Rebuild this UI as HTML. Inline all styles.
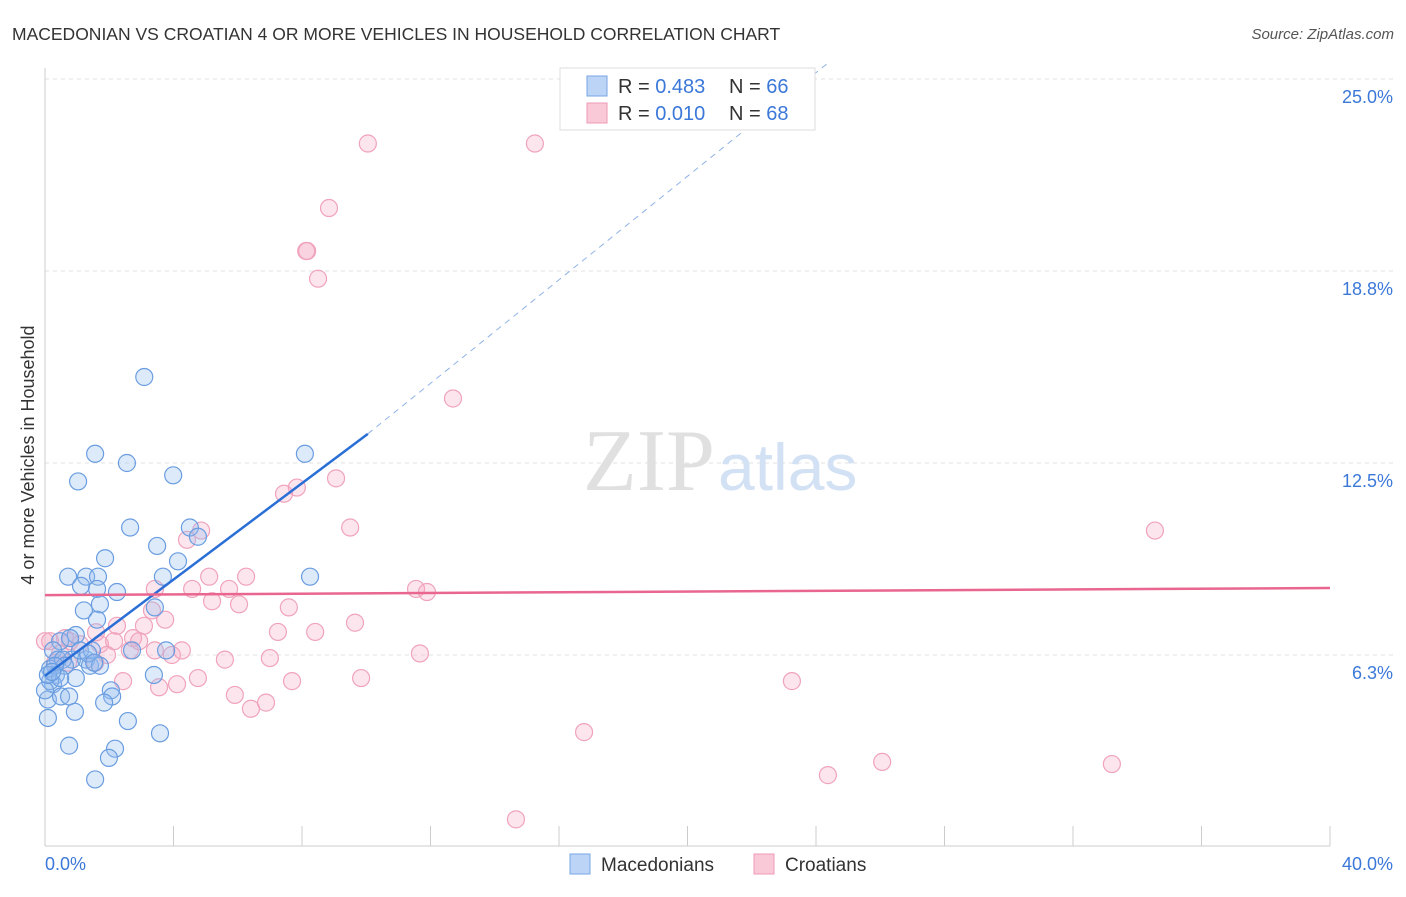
<!DOCTYPE html>
<html><head><meta charset="utf-8"><style>
body{margin:0;background:#fff;font-family:"Liberation Sans",sans-serif;}
</style></head><body>
<svg width="1406" height="892" xmlns="http://www.w3.org/2000/svg" font-family="Liberation Sans, sans-serif">
<text x="12" y="40" font-size="17.5" fill="#333">MACEDONIAN VS CROATIAN 4 OR MORE VEHICLES IN HOUSEHOLD CORRELATION CHART</text>
<text x="1394" y="39" font-size="15" fill="#555" font-style="italic" text-anchor="end">Source: ZipAtlas.com</text>
<g id="grid"></g>
<text x="715" y="490" font-size="88" fill="#e0e0e0" text-anchor="end" font-family="Liberation Serif, serif">ZIP</text>
<text x="718" y="490" font-size="66" fill="#d3e1f5">atlas</text>
<g id="pts"></g>
<g id="lines"></g>
<text transform="translate(34,455) rotate(-90)" font-size="18" fill="#333" text-anchor="middle">4 or more Vehicles in Household</text>
<text x="45" y="870" font-size="18" fill="#3b78d8">0.0%</text>
<text x="1393" y="870" font-size="18" fill="#3b78d8" text-anchor="end">40.0%</text>
<g>
<rect x="560" y="68" width="255" height="62" fill="#fff" stroke="#ddd"/>
<rect x="587" y="76" width="20" height="20" fill="#bcd4f6" stroke="#7aa6e6"/>
<rect x="587" y="103" width="20" height="20" fill="#f9c9d8" stroke="#ee9ab5"/>
<text x="618" y="93" font-size="20" fill="#333">R = <tspan fill="#3b78d8">0.483</tspan></text>
<text x="729" y="93" font-size="20" fill="#333">N = <tspan fill="#3b78d8">66</tspan></text>
<text x="618" y="120" font-size="20" fill="#333">R = <tspan fill="#3b78d8">0.010</tspan></text>
<text x="729" y="120" font-size="20" fill="#333">N = <tspan fill="#3b78d8">68</tspan></text>
</g>
<g>
<rect x="570" y="854" width="20" height="20" fill="#bcd4f6" stroke="#7aa6e6"/>
<text x="601" y="871" font-size="19" fill="#333">Macedonians</text>
<rect x="754" y="854" width="20" height="20" fill="#f9c9d8" stroke="#ee9ab5"/>
<text x="785" y="871" font-size="19" fill="#333">Croatians</text>
</g>
</svg>
<script>
const yTicks=[6.3,12.5,18.8,25.0];
const yTickVals=[6.25,12.5,18.75,25];
const xTickCount=10;
const blueX=[3.09,1.56,2.55,1.03,3.99,8.09,2.65,4.51,3.49,4.76,4.14,1.87,0.72,1.28,1.65,2.24,3.67,8.25,1.12,1.62,1.71,1.21,3.42,1.62,0.96,0.47,0.78,0.25,0.40,0.84,1.28,1.40,1.09,1.46,0.16,0.34,0.25,0.96,2.71,3.77,3.39,0.09,0.50,0.75,2.05,2.09,1.84,0.09,0.93,2.58,3.58,0.75,2.18,1.99,1.56,0.56,0.16,1.71,0.0,0.62,0.31,1.34,1.53,0.47,0.09,0.22];
const blueY=[15.3,12.8,12.5,11.9,12.1,12.8,10.4,10.4,9.8,10.1,9.3,9.4,8.8,8.8,8.8,8.3,8.8,8.8,8.5,8.4,7.9,7.7,7.8,7.4,6.9,6.7,6.8,6.4,6.1,6.1,6.1,5.9,6.4,6.4,5.8,5.6,5.3,5.5,6.4,6.4,5.6,4.8,4.9,4.9,5.1,4.9,4.7,4.2,4.4,4.1,3.7,3.3,3.2,2.9,2.2,6.1,5.4,5.9,5.1,5.9,5.9,6.3,6.0,5.5,5.6,5.7];
const pinkX=[10.05,15.25,8.84,8.16,8.13,8.5,12.7,9.06,7.84,7.44,9.5,4.86,34.55,4.42,5.11,6.26,3.42,4.58,5.73,11.55,11.89,5.2,6.04,7.59,3.33,3.74,9.65,2.24,3.08,7.25,8.41,1.59,0.62,0.78,1.71,2.74,2.93,2.15,2.64,3.42,4.26,0.47,1.93,3.95,5.6,7.0,11.67,0.31,1.56,9.84,7.69,4.76,4.11,3.55,2.43,5.91,6.88,6.41,23.25,16.78,24.37,26.06,33.21,14.66,0.16,1.09,0.0,0.72];
const pinkY=[22.9,22.9,20.8,19.4,19.4,18.5,14.6,12.0,11.7,11.5,10.4,10.3,10.3,10.0,8.8,8.8,8.4,8.4,8.4,8.4,8.3,8.0,7.9,7.8,7.7,7.4,7.3,7.2,7.2,7.0,7.0,6.99,6.8,6.7,6.6,6.8,6.7,6.7,6.4,6.4,6.4,6.3,6.25,6.25,6.1,6.15,6.3,6.0,6.0,5.5,5.4,5.5,5.3,5.2,5.4,4.95,4.7,4.5,5.4,3.74,2.34,2.77,2.7,0.9,6.7,6.6,6.7,6.0];
const blueTrend=[0,5.57,10.05,13.45,24.35,25.5];
const pinkTrend=[0,8.2,40,8.43];
const NS="http://www.w3.org/2000/svg";
const X=v=>45+v*32.125, Y=v=>847-v*30.72;
const grid=document.getElementById('grid');
function mk(tag,attrs,parent){const e=document.createElementNS(NS,tag);for(const k in attrs)e.setAttribute(k,attrs[k]);parent.appendChild(e);return e;}
yTickVals.forEach((v,i)=>{
 const l=mk('line',{x1:45,x2:1393,y1:Y(v),y2:Y(v),stroke:'#e2e2e2','stroke-dasharray':'4,4'},grid);
 
 
 const t=mk('text',{x:1393,y:Y(v)+24,'font-size':18,fill:'#3b78d8','text-anchor':'end'},grid);
 t.textContent=yTicks[i].toFixed(1)+'%';
 
 
});
mk('line',{x1:45,x2:45,y1:68,y2:846,stroke:'#ccc'},grid);
mk('line',{x1:45,x2:1330,y1:846,y2:846,stroke:'#ccc'},grid);
for(let i=0;i<=xTickCount;i++){const x=X(i*40/xTickCount);const t=mk('line',{x1:x,x2:x,y1:826,y2:846,stroke:'#ccc'},grid);
 
 }
const pts=document.getElementById('pts');
pinkX.forEach((x,i)=>{const c=mk('circle',{cx:X(x),cy:Y(pinkY[i]),r:8.5,fill:'rgba(246,170,195,0.3)',stroke:'#f0a3bc','stroke-width':1.2},pts);
 
 });
blueX.forEach((x,i)=>{const c=mk('circle',{cx:X(x),cy:Y(blueY[i]),r:8.5,fill:'rgba(150,190,240,0.32)',stroke:'#6a9de0','stroke-width':1.2},pts);
 
 });
const lines=document.getElementById('lines');
let l1=mk('line',{x1:X(blueTrend[0]),y1:Y(blueTrend[1]),x2:X(blueTrend[2]),y2:Y(blueTrend[3]),stroke:'#2a6fd6','stroke-width':2.5},lines);


let l2=mk('line',{x1:X(blueTrend[2]),y1:Y(blueTrend[3]),x2:X(blueTrend[4]),y2:Y(blueTrend[5]),stroke:'#8fb3e6','stroke-width':1,'stroke-dasharray':'6,5'},lines);


let l3=mk('line',{x1:X(pinkTrend[0]),y1:Y(pinkTrend[1]),x2:X(pinkTrend[2]),y2:Y(pinkTrend[3]),stroke:'#e8668f','stroke-width':2.5},lines);


</script>
</body></html>
